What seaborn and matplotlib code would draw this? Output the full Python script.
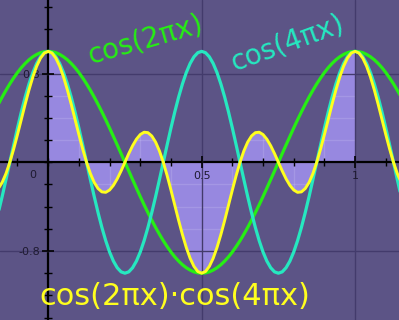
import matplotlib
matplotlib.use("Agg")
import matplotlib.pyplot as plt
import seaborn as sns
import pandas as pd
from matplotlib.ticker import MultipleLocator

# ---- data ----
x = [-0.175, -0.1625, -0.15, -0.1375, -0.125, -0.1125, -0.1, -0.0875, -0.075, -0.0625,
     -0.05, -0.0375, -0.025, -0.0125,
     0.0, 0.0125, 0.025, 0.0375, 0.05, 0.0625, 0.075, 0.0875, 0.1, 0.1125,
     0.125, 0.1375, 0.15, 0.1625, 0.175, 0.1875, 0.2, 0.2125, 0.225, 0.2375,
     0.25, 0.2625, 0.275, 0.2875, 0.3, 0.3125, 0.325, 0.3375, 0.35, 0.3625,
     0.375, 0.3875, 0.4, 0.4125, 0.425, 0.4375, 0.45, 0.4625, 0.475, 0.4875,
     0.5, 0.5125, 0.525, 0.5375, 0.55, 0.5625, 0.575, 0.5875, 0.6, 0.6125,
     0.625, 0.6375, 0.65, 0.6625, 0.675, 0.6875, 0.7, 0.7125, 0.725, 0.7375,
     0.75, 0.7625, 0.775, 0.7875, 0.8, 0.8125, 0.825, 0.8375, 0.85, 0.8625,
     0.875, 0.8875, 0.9, 0.9125, 0.925, 0.9375, 0.95, 0.9625, 0.975, 0.9875,
     1.0, 1.0125, 1.025, 1.0375, 1.05, 1.0625, 1.075, 1.0875, 1.1, 1.1125,
     1.125, 1.1375, 1.15, 1.1625, 1.175]

cos2 = [0.454, 0.522, 0.588, 0.649, 0.707, 0.760, 0.809, 0.853, 0.891, 0.924,
        0.951, 0.972, 0.988, 0.997,
        1.000, 0.997, 0.988, 0.972, 0.951, 0.924, 0.891, 0.853, 0.809, 0.760,
        0.707, 0.649, 0.588, 0.522, 0.454, 0.383, 0.309, 0.233, 0.156, 0.078,
        0.000, -0.078, -0.156, -0.233, -0.309, -0.383, -0.454, -0.522, -0.588, -0.649,
        -0.707, -0.760, -0.809, -0.853, -0.891, -0.924, -0.951, -0.972, -0.988, -0.997,
        -1.000, -0.997, -0.988, -0.972, -0.951, -0.924, -0.891, -0.853, -0.809, -0.760,
        -0.707, -0.649, -0.588, -0.522, -0.454, -0.383, -0.309, -0.233, -0.156, -0.078,
        0.000, 0.078, 0.156, 0.233, 0.309, 0.383, 0.454, 0.522, 0.588, 0.649,
        0.707, 0.760, 0.809, 0.853, 0.891, 0.924, 0.951, 0.972, 0.988, 0.997,
        1.000, 0.997, 0.988, 0.972, 0.951, 0.924, 0.891, 0.853, 0.809, 0.760,
        0.707, 0.649, 0.588, 0.522, 0.454]

cos4 = [-0.588, -0.454, -0.309, -0.156, 0.000, 0.156, 0.309, 0.454, 0.588, 0.707,
        0.809, 0.891, 0.951, 0.988,
        1.000, 0.988, 0.951, 0.891, 0.809, 0.707, 0.588, 0.454, 0.309, 0.156,
        0.000, -0.156, -0.309, -0.454, -0.588, -0.707, -0.809, -0.891, -0.951, -0.988,
        -1.000, -0.988, -0.951, -0.891, -0.809, -0.707, -0.588, -0.454, -0.309, -0.156,
        0.000, 0.156, 0.309, 0.454, 0.588, 0.707, 0.809, 0.891, 0.951, 0.988,
        1.000, 0.988, 0.951, 0.891, 0.809, 0.707, 0.588, 0.454, 0.309, 0.156,
        0.000, -0.156, -0.309, -0.454, -0.588, -0.707, -0.809, -0.891, -0.951, -0.988,
        -1.000, -0.988, -0.951, -0.891, -0.809, -0.707, -0.588, -0.454, -0.309, -0.156,
        0.000, 0.156, 0.309, 0.454, 0.588, 0.707, 0.809, 0.891, 0.951, 0.988,
        1.000, 0.988, 0.951, 0.891, 0.809, 0.707, 0.588, 0.454, 0.309, 0.156,
        0.000, -0.156, -0.309, -0.454, -0.588]

prod = [-0.267, -0.237, -0.182, -0.102, 0.000, 0.119, 0.250, 0.387, 0.524, 0.653,
        0.769, 0.866, 0.939, 0.985,
        1.000, 0.985, 0.939, 0.866, 0.769, 0.653, 0.524, 0.387, 0.250, 0.119,
        0.000, -0.102, -0.182, -0.237, -0.267, -0.271, -0.250, -0.208, -0.149, -0.078,
        0.000, 0.078, 0.149, 0.208, 0.250, 0.271, 0.267, 0.237, 0.182, 0.102,
        0.000, -0.119, -0.250, -0.387, -0.524, -0.653, -0.769, -0.866, -0.939, -0.985,
        -1.000, -0.985, -0.939, -0.866, -0.769, -0.653, -0.524, -0.387, -0.250, -0.119,
        0.000, 0.102, 0.182, 0.237, 0.267, 0.271, 0.250, 0.208, 0.149, 0.078,
        0.000, -0.078, -0.149, -0.208, -0.250, -0.271, -0.267, -0.237, -0.182, -0.102,
        0.000, 0.119, 0.250, 0.387, 0.524, 0.653, 0.769, 0.866, 0.939, 0.985,
        1.000, 0.985, 0.939, 0.866, 0.769, 0.653, 0.524, 0.387, 0.250, 0.119,
        0.000, -0.102, -0.182, -0.237, -0.267]

xtick_vals = [0.5, 1]
xtick_labels = ["0.5", "1"]
ytick_vals = [-0.8, 0.8]
ytick_labels = ["-0.8", "0.8"]

label_c2 = "cos(2πx)"
label_c4 = "cos(4πx)"
label_prod = "cos(2πx)·cos(4πx)"

df = pd.DataFrame({"x": x, "cos2": cos2, "cos4": cos4, "prod": prod})

# ---- style ----
BG = "#5c5486"
FILL = "#9788e0"
GREEN = "#26ee14"
CYAN = "#26e8c0"
YELLOW = "#ffff1e"
GRID = "#433b6c"

sns.set_theme(style="white")
fig = plt.figure(figsize=(3.99, 3.2), dpi=100)
fig.patch.set_facecolor(BG)
ax = fig.add_axes([0, 0, 1, 1])
ax.set_facecolor(BG)

# filled area between product and zero on [0, 1]
sub = df[(df["x"] >= 0) & (df["x"] <= 1)]
fill = ax.fill_between(sub["x"], sub["prod"], 0, color=FILL, lw=0, zorder=1)

# faint minor grid visible only inside the filled area
vx = [i / 10 for i in range(-1, 12)]
hy = [i / 5 for i in range(-7, 8)]
vl = ax.vlines(vx, -1.5, 1.5, color="white", alpha=0.13, lw=1.0, zorder=1.5)
hl = ax.hlines(hy, -0.2, 1.2, color="white", alpha=0.13, lw=1.0, zorder=1.5)
for p in fill.get_paths():
    vl.set_clip_path(p, ax.transData)
    hl.set_clip_path(p, ax.transData)
    break

sns.lineplot(data=df, x="x", y="cos2", ax=ax, color=GREEN, lw=2.3, zorder=3)
sns.lineplot(data=df, x="x", y="cos4", ax=ax, color=CYAN, lw=2.3, zorder=3.1)
sns.lineplot(data=df, x="x", y="prod", ax=ax, color=YELLOW, lw=2.1, zorder=3.2)

ax.set_xlim(-0.157, 1.143)
ax.set_ylim(-1.422, 1.463)
ax.set_xlabel("")
ax.set_ylabel("")

# axes through the origin
for s in ["top", "right"]:
    ax.spines[s].set_visible(False)
ax.spines["left"].set_position(("data", 0))
ax.spines["bottom"].set_position(("data", 0))
for s in ["left", "bottom"]:
    ax.spines[s].set_color("black")
    ax.spines[s].set_linewidth(1.6)
    ax.spines[s].set_zorder(2.5)

ax.set_xticks(xtick_vals)
ax.set_xticklabels(xtick_labels)
ax.set_yticks(ytick_vals)
ax.set_yticklabels(ytick_labels)
ax.xaxis.set_minor_locator(MultipleLocator(0.1))
ax.yaxis.set_minor_locator(MultipleLocator(0.2))
ax.tick_params(which="major", direction="inout", length=8, width=1.2,
               color="black", labelsize=8, labelcolor="#1e1a30", pad=2)
ax.tick_params(which="minor", direction="inout", length=6, width=1.0,
               color="black")
ax.tick_params(axis="x", which="both", bottom=True)
ax.tick_params(axis="y", which="both", left=True)

ax.grid(True, which="major", color=GRID, lw=1.0, zorder=2)
ax.set_axisbelow(False)

ax.text(-0.05, -0.115, "0", ha="center", va="center", fontsize=8,
        color="#1e1a30")

# handwritten-style labels
fig.text(0.365, 0.875, label_c2, color=GREEN, fontsize=20, rotation=16,
         ha="center", va="center")
fig.text(0.72, 0.865, label_c4, color=CYAN, fontsize=20, rotation=20,
         ha="center", va="center")
fig.text(0.439, 0.073, label_prod, color=YELLOW, fontsize=22,
         ha="center", va="center")

fig.savefig("out.png", dpi=100, facecolor=BG)
